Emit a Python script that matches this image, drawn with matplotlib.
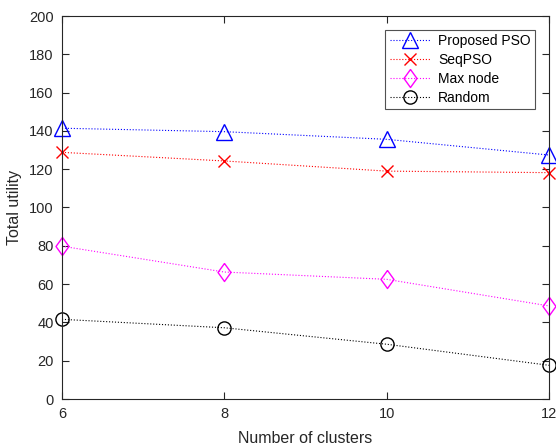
import numpy as np
import matplotlib.pyplot as plt

plt.rcParams['font.family'] = ['Liberation Sans', 'DejaVu Sans']

clusters = [6, 8, 10, 12]
proposed_pso = [141.4, 139.6, 135.6, 127.4]
seq_pso = [128.8, 124.3, 119.0, 118.2]
max_node = [79.8, 66.3, 62.5, 48.6]
random_sel = [41.6, 37.2, 28.6, 17.6]

dark = '#262626'
diamond = [(0, 1), (0.72, 0), (0, -1), (-0.72, 0), (0, 1)]

fig = plt.figure(figsize=(5.56, 4.48), dpi=100)
ax = fig.add_axes([62/556, 1 - 399/448, (549 - 62)/556, (399 - 16)/448])

series = [
    (proposed_pso, 'Proposed PSO', 'b', '^', 12),
    (seq_pso, 'SeqPSO', 'r', 'x', 9),
    (max_node, 'Max node', '#ff00ff', diamond, 13),
    (random_sel, 'Random', 'k', 'o', 9.5),
]
for vals, name, col, mk, ms in series:
    ax.plot(clusters, vals, linestyle=':', color=col, linewidth=0.8, marker=mk,
            markersize=ms, markerfacecolor='none', markeredgecolor=col,
            markeredgewidth=1.0, label=name, clip_on=False)

ax.set_xlim(6, 12)
ax.set_ylim(0, 200)
ax.set_xticks([6, 8, 10, 12])
ax.set_yticks(np.arange(0, 201, 20))
ax.tick_params(direction='in', top=True, right=True, length=5, width=0.8,
               colors=dark, labelsize=10.5, pad=6)
for sp in ax.spines.values():
    sp.set_color(dark)
    sp.set_linewidth(0.8)

ax.set_xlabel('Number of clusters', fontsize=11.5, color=dark, labelpad=7)
ax.set_ylabel('Total utility', fontsize=11.5, color=dark, labelpad=5)

leg = ax.legend(loc='upper right', bbox_to_anchor=(535/556, 1 - 30/448),
                bbox_transform=fig.transFigure, borderaxespad=0, fancybox=False,
                edgecolor=dark, fontsize=10, handlelength=3.0, labelspacing=0.36,
                borderpad=0.3, handletextpad=0.5)
leg.get_frame().set_linewidth(0.8)

fig.savefig('out.png', dpi=100)
